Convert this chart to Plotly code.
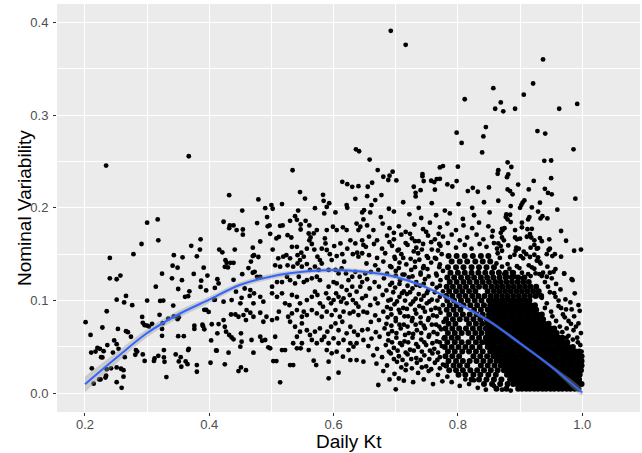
import plotly.graph_objects as go

# ---------------- data ----------------
# sparse left part, x < 0.41
left_x = [0.234,0.367,0.300,0.317,0.318,0.291,0.278,0.240,0.240,0.251,0.257,0.251,0.266,0.263,0.276,0.235,0.201,0.209,0.228,0.210,
          0.217,0.220,0.224,0.230,0.236,0.226,0.228,0.211,0.214,0.223,0.225,0.233,0.234,0.235,0.242,0.245,0.247,0.251,0.254,0.253,
          0.251,0.251,0.258,0.262,0.259,0.262,0.264,0.266,0.269,0.274,0.282,0.284,0.281,0.292,0.293,0.296,0.300,0.303,0.308,0.293,
          0.296,0.300,0.312,0.318,0.311,0.320,0.324,0.324,0.325,0.321,0.326,0.314,0.324,0.327,0.327,0.328,0.331,0.334,0.340,0.341,
          0.343,0.342,0.343,0.346,0.349,0.350,0.351,0.349,0.350,0.351,0.354,0.355,0.356,0.357,0.359,0.361,0.362,0.365,0.366,0.368,
          0.366,0.367,0.371,0.375,0.376,0.376,0.380,0.380,0.380,0.385,0.386,0.386,0.387,0.389,0.390,0.391,0.392,0.392,0.395,0.397,
          0.395,0.399,0.402,0.403,0.404,0.409,0.409,0.411,0.408]
left_y = [0.2455,0.2556,0.184,0.1875,0.165,0.161,0.150,0.146,0.124,0.123,0.127,0.101,0.105,0.098,0.095,0.0885,0.0767,0.063,0.071,0.044,
          0.045,0.049,0.048,0.0455,0.052,0.039,0.0387,0.027,0.0104,0.015,0.015,0.017,0.019,0.026,0.027,0.044,0.057,0.053,0.048,0.0695,
          0.028,0.012,0.0265,0.025,0.006,0.018,0.039,0.067,0.066,0.061,0.0466,0.045,0.0416,0.0824,0.076,0.0735,0.073,0.072,0.075,0.042,
          0.035,0.100,0.0376,0.0405,0.035,0.0846,0.0695,0.062,0.0756,0.0996,0.100,0.115,0.129,0.0466,0.0387,0.034,0.0176,0.0806,0.124,0.1376,
          0.149,0.0946,0.083,0.042,0.1355,0.1125,0.082,0.080,0.0616,0.0344,0.039,0.0287,0.122,0.1466,0.0616,0.104,0.0344,0.0315,0.1047,0.110,
          0.0466,0.048,0.159,0.1287,0.073,0.0695,0.0305,0.0233,0.1477,0.155,0.166,0.1147,0.1215,0.074,0.0724,0.1355,0.069,0.090,0.090,0.127,
          0.111,0.0878,0.033,0.057,0.0745,0.1136,0.101,0.0462,0.1007]

# middle part, 0.41 < x < 0.65
mid_x = [0.636,0.641,0.534,0.432,0.479,0.546,0.554,0.453,0.490,0.500,0.502,0.517,0.543,0.570,0.583,0.584,0.593,0.589,0.585,0.614,
         0.622,0.630,0.640,0.635,0.621,0.622,0.649,0.646,0.603,0.423,0.433,0.439,0.432,0.444,0.454,0.454,0.477,0.493,0.494,0.497,
         0.514,0.518,0.530,0.538,0.541,0.547,0.555,0.561,0.547,0.560,0.508,0.512,0.526,0.532,0.498,0.482,0.470,0.472,0.470,0.479,
         0.416,0.421,0.441,0.426,0.428,0.434,0.439,0.425,0.430,0.453,0.413,0.415,0.439,0.470,0.477,0.482,0.467,0.463,0.473,
         0.423,0.436,0.443,0.457,0.466,0.465,0.472,0.452,0.450,0.460,0.471,0.482,0.487,0.415,0.423,0.425,0.435,0.442,0.447,0.455,
         0.459,0.466,0.471,0.482,0.487,0.492,0.501,0.509,0.512,0.413,0.427,0.432,0.436,0.439,0.451,0.452,0.468,0.482,0.485,0.490,
         0.495,0.498,0.506,0.412,0.431,0.450,0.471,0.503,0.508,0.517,0.522,0.425,0.447,0.451,0.459,0.514,0.535,
         0.502,0.511,0.519,0.524,0.530,0.533,0.541,0.542,0.548,0.546,0.552,0.557,0.561,0.563,0.565,0.569,0.574,0.578,0.581,0.587,
         0.589,0.594,0.597,0.601,0.605,0.611,0.614,0.617,0.622,0.627,0.631,0.635,0.638,0.640,0.646,0.648,0.646,0.640,0.643,0.648,
         0.637,0.621,0.615,0.605,0.599,0.589,0.573,0.568,0.586,
         0.506,0.514,0.526,0.535,0.542,0.549,0.557,0.562,0.570,0.576,0.581,0.592,0.603,0.608,0.613,0.620,0.624,0.630,0.635,0.642,
         0.646,0.651,0.643,0.637,0.630,0.621,0.613,0.605,0.600,0.592,0.578,0.573,0.565,0.557,0.552,0.544,0.538,0.530,0.525,0.517,
         0.509,0.501,0.501,
         0.509,0.517,0.522,0.529,0.533,0.541,0.546,0.552,0.557,0.565,0.570,0.574,0.578,0.583,0.588,0.592,0.596,0.600,0.604,0.608,
         0.612,0.616,0.621,0.626,0.631,0.636,0.640,0.646,0.648,0.640,0.632,0.626,0.616,0.610,0.603,0.597,0.589,0.581,0.573,0.565,
         0.557,0.549,0.541,0.533,0.527,
         0.530,0.538,0.549,0.557,0.562,0.570,0.578,0.585,0.590,0.596,0.603,0.608,0.614,0.621,0.627,0.633,0.639,0.646,0.648,0.637,
         0.627,0.616,0.608,0.600,0.592,0.581,0.573,0.565,0.549,0.541,0.535,0.546,
         0.547,0.560,0.568,0.572,0.592,0.592,0.608,0.589,0.597,0.605,0.615,0.624,0.632,0.637,0.648,0.627,0.530,0.541]
mid_y = [0.263,0.261,0.2405,0.2136,0.209,0.217,0.210,0.197,0.1996,0.203,0.199,0.204,0.197,0.1996,0.214,0.2075,0.205,0.201,0.194,0.228,
         0.2255,0.2226,0.2233,0.2097,0.203,0.200,0.1975,0.195,0.195,0.185,0.181,0.181,0.178,0.176,0.1766,0.171,0.1835,0.190,0.180,0.181,
         0.1806,0.181,0.186,0.191,0.187,0.182,0.186,0.181,0.1766,0.1723,0.167,0.1687,0.1705,0.168,0.172,0.1637,0.157,0.149,0.148,0.147,
         0.155,0.152,0.155,0.1436,0.1407,0.1407,0.1407,0.1364,0.1357,0.1285,0.123,0.1185,0.1224,0.130,0.1256,0.1256,0.142,0.135,0.131,
         0.0988,0.1006,0.1096,0.113,0.1113,0.105,0.1078,0.103,0.097,0.0898,0.097,0.104,0.0988,0.0747,0.079,0.0718,0.085,0.085,0.0826,0.0844,
         0.079,0.0869,0.0826,0.0869,0.0772,0.0826,0.079,0.0808,0.088,0.0647,0.0665,0.0629,0.0603,0.0582,0.0647,0.0557,0.0575,0.061,0.0567,0.0575,
         0.0496,0.0485,0.061,0.046,0.0438,0.0503,0.0438,0.0348,0.0348,0.0467,0.0467,0.0313,0.024,0.028,0.025,0.0119,0.0305,
         0.155,0.1455,0.1473,0.149,0.1455,0.158,0.158,0.149,0.1516,0.1437,0.1473,0.156,0.165,0.168,0.161,0.155,0.1473,0.1437,0.156,0.1616,
         0.1545,0.150,0.1437,0.1588,0.148,0.1616,0.150,0.1419,0.156,0.165,0.150,0.1616,0.1516,0.1473,0.151,0.160,0.165,0.176,0.1796,0.1875,
         0.183,0.176,0.179,0.176,0.1796,0.176,0.176,0.1724,0.167,
         0.138,0.1365,0.138,0.1365,0.140,0.1365,0.1394,0.133,0.1365,0.133,0.140,0.133,0.133,0.1293,0.1347,0.1293,0.122,0.1257,0.131,0.1257,
         0.120,0.1293,0.115,0.1096,0.115,0.1113,0.115,0.1185,0.120,0.115,0.122,0.1257,0.124,0.122,0.120,0.1257,0.1185,0.122,0.1257,0.120,
         0.120,0.115,0.1078,
         0.104,0.1078,0.097,0.095,0.106,0.104,0.097,0.088,0.1006,0.104,0.1096,0.106,0.097,0.0934,0.1078,0.1024,0.097,0.1006,0.1078,0.104,
         0.0988,0.1024,0.097,0.106,0.1006,0.097,0.0934,0.1024,0.088,0.0844,0.088,0.0862,0.088,0.0826,0.0898,0.0844,0.088,0.0826,0.0862,0.0898,
         0.0844,0.0826,0.0898,0.0862,0.0826,
         0.0772,0.0718,0.0754,0.068,0.0629,0.0665,0.070,0.061,0.0665,0.0718,0.0754,0.068,0.0772,0.0647,0.0718,0.0665,0.0629,0.068,0.0575,0.054,
         0.054,0.0575,0.054,0.0593,0.054,0.0575,0.054,0.0575,0.054,0.061,0.054,0.0665,
         0.0485,0.0467,0.0352,0.0305,0.0341,0.0162,0.0223,0.0467,0.0431,0.0449,0.0395,0.0467,0.0503,0.0359,0.0341,0.0359,0.0305,0.0485]

# upper outliers, x > 0.65
upper_x = [0.692,0.716,0.857,0.811,0.845,0.841,0.798,0.806,0.839,0.658,0.671,0.695,0.680,0.690,0.688,0.701,0.662,0.655,0.667,0.654,
           0.677,0.743,0.743,0.771,0.776,0.800,0.745,0.757,0.762,0.766,0.771,0.763,0.783,0.791,0.798,0.729,0.732,0.732,0.740,0.816,
           0.824,0.832,0.850,0.937,0.921,0.906,0.869,0.860,0.873,0.892,0.963,0.992]
upper_y = [0.3908,0.3757,0.329,0.317,0.287,0.277,0.281,0.270,0.2597,0.252,0.2407,0.239,0.2335,0.2346,0.230,0.2295,0.227,0.2227,0.2083,0.2126,
           0.2137,0.2364,0.234,0.2435,0.245,0.2443,0.2288,0.2292,0.2277,0.231,0.2313,0.2195,0.2252,0.223,0.2288,0.2227,0.2162,0.2123,0.219,0.218,
           0.2216,0.2173,0.222,0.360,0.334,0.322,0.3136,0.3068,0.304,0.3068,0.3068,0.312]

# right upper part, x > 0.86 and 0.12 < y < 0.29
east_x = [0.928,0.9405,0.986,0.939,0.950,0.880,0.886,0.865,0.864,0.881,0.879,0.950,0.922,0.897,0.880,0.884,0.888,0.914,0.940,0.945,
          0.951,0.989,0.865,0.907,0.904,0.902,0.900,0.885,0.919,0.932,0.960,0.929,0.878,0.884,0.877,0.880,0.936,0.933,0.944,0.915,
          0.913,0.885,0.903,0.966,0.974,0.987,0.998,0.966,0.947,0.948,0.946,0.932,0.935,0.929,0.956,0.952,0.943,0.957,0.954,0.971,
          0.983,0.937,0.944,0.943,
          0.871,0.875,0.872,0.869,0.871,0.874,0.865,0.869,0.863,0.871,0.892,0.903,0.912,0.919,0.916,0.911,0.918,0.923,0.892,0.895,
          0.900,0.881,0.894,0.898,0.893,0.917,0.923,0.927,0.906,0.910,0.916,0.923,0.929,0.927,0.931,0.933,0.884,0.891,0.901,0.905,
          0.895,0.899,0.914,0.919,0.923,0.880,0.883,0.890,0.903,0.913,0.917,0.925,0.931,0.935,0.864,0.8675,0.862,0.871,0.866,0.8745,
          0.880,0.892,0.904]
east_y = [0.2827,0.280,0.263,0.2507,0.251,0.249,0.244,0.2406,0.2367,0.236,0.233,0.232,0.229,0.225,0.2198,0.218,0.2145,0.2198,0.2205,0.216,
          0.2145,0.2098,0.2076,0.208,0.2055,0.203,0.200,0.2019,0.2004,0.2055,0.198,0.196,0.193,0.1925,0.190,0.1875,0.191,0.1886,0.1886,0.190,
          0.1875,0.1846,0.184,0.175,0.1645,0.1537,0.155,0.1473,0.166,0.156,0.1545,0.1674,0.164,0.1566,0.150,0.148,0.150,0.134,0.131,0.129,
          0.123,0.130,0.1365,0.1257,
          0.1774,0.178,0.176,0.173,0.168,0.165,0.1616,0.1588,0.156,0.1537,0.176,0.179,0.177,0.1774,0.1717,0.1688,0.168,0.165,0.168,0.166,
          0.1667,0.1595,0.157,0.156,0.1537,0.157,0.160,0.156,0.1527,0.150,0.147,0.1494,0.1466,0.143,0.142,0.140,0.147,0.1494,0.148,0.1455,
          0.137,0.135,0.138,0.1358,0.1343,0.1394,0.1343,0.130,0.130,0.1286,0.1264,0.1293,0.1286,0.1264,0.151,0.146,0.140,0.1365,0.131,0.1286,
          0.1257,0.1257,0.124]

# right fringe of the dense cluster
fringe_x = [0.971,0.9845,0.988,0.994,0.996,0.973,0.974,0.983,0.994,0.965,0.958,0.951,0.945,0.962,0.969,0.978,0.986,0.992,0.997,0.981,
            0.955,0.966,0.975,0.987,0.999,0.998,0.948,0.940,
            0.975,0.985,0.968,0.990,0.958,0.972,0.950,0.962,0.943,0.957,0.935,0.948,0.978,0.964,0.952,0.940,0.982,0.930,0.993]
fringe_y = [0.1293,0.122,0.1078,0.0952,0.089,0.1013,0.0905,0.0905,0.0754,0.112,0.118,0.124,0.115,0.100,0.085,0.078,0.068,0.060,0.052,0.098,
            0.108,0.092,0.070,0.083,0.045,0.065,0.130,0.120,
            0.060,0.058,0.066,0.072,0.078,0.082,0.088,0.094,0.097,0.104,0.103,0.109,0.062,0.072,0.083,0.092,0.075,0.108,0.055]

# moderately dense band, 0.65 < x < 0.86
mod_x = [0.661,0.689,0.712,0.737,0.758,0.779,0.801,0.823,0.842,
         0.659,0.676,0.697,0.722,0.741,0.765,0.787,0.808,0.826,0.851,
         0.654,0.664,0.679,0.690,0.705,0.716,0.730,0.744,0.755,0.771,0.783,0.797,0.809,0.823,0.834,0.849,0.856,
         0.657,0.670,0.686,0.697,0.709,0.726,0.737,0.752,0.763,0.776,0.790,0.803,0.815,0.830,0.841,0.855,
         0.652,0.665,0.678,0.694,0.705,0.719,0.733,0.744,0.758,0.772,0.784,0.797,0.811,0.822,0.835,0.846,0.858,
         0.657,0.670,0.683,0.698,0.709,0.724,0.736,0.750,0.763,0.774,
         0.653,0.667,0.680,0.691,0.706,0.717,0.731,0.745,0.757,0.771,
         0.660,0.672,0.686,0.700,0.711,0.725,0.740,0.751,0.765,0.776,
         0.654,0.666,0.681,0.694,0.707,0.721,0.733,0.747,0.759,0.772,
         0.658,0.673,0.685,0.699,0.713,0.727,0.739,0.752,0.766,0.776,
         0.652,0.667,0.679,0.692,0.706,0.718,0.732,0.745,0.758,0.771,
         0.659,0.671,0.686,0.698,0.712,0.724,0.738,0.750,0.764,0.776,
         0.654,0.667,0.680,0.693,0.707,0.720,0.733,0.747,0.760,0.772,
         0.660,0.673,0.685,0.700,0.713,0.726,0.740,0.752,0.765,0.777,
         0.655,0.668,0.682,0.694,0.708,0.721,0.734,0.747,0.761,0.773,
         0.661,0.674,0.688,0.701,0.714,0.727,0.741,0.753,0.766,0.777,
         0.656,0.670,0.684,0.697,0.710,0.723,0.736,0.749,0.762,0.774,
         0.664,0.678,0.692,0.705,0.719,0.733,0.746,0.759,0.771,
         0.669,0.686,0.702,0.717,0.734,0.749,0.763,0.776,
         0.680,0.698,0.716,0.736,0.753,0.768,0.783,
         0.672,0.700,0.705,0.713,0.690,0.728,0.745,0.760,0.775,0.790,0.803,0.818,0.832,0.845,0.858,0.871,0.885,0.812,0.826]
mod_y = [0.203,0.199,0.206,0.200,0.205,0.197,0.204,0.200,0.206,
         0.195,0.190,0.196,0.193,0.189,0.192,0.194,0.188,0.192,0.195,
         0.181,0.176,0.183,0.178,0.180,0.174,0.182,0.177,0.184,0.179,0.183,0.176,0.181,0.178,0.184,0.180,0.175,
         0.169,0.165,0.170,0.166,0.171,0.167,0.164,0.170,0.166,0.169,0.171,0.165,0.168,0.171,0.166,0.169,
         0.158,0.161,0.156,0.159,0.155,0.160,0.157,0.161,0.155,0.159,0.162,0.157,0.160,0.156,0.161,0.158,0.162,
         0.149,0.146,0.151,0.147,0.150,0.145,0.151,0.148,0.146,0.150,
         0.140,0.138,0.142,0.137,0.141,0.139,0.142,0.137,0.141,0.139,
         0.131,0.133,0.129,0.132,0.128,0.133,0.130,0.134,0.129,0.132,
         0.123,0.120,0.124,0.119,0.122,0.125,0.120,0.123,0.118,0.122,
         0.113,0.115,0.111,0.114,0.110,0.113,0.116,0.111,0.114,0.110,
         0.105,0.102,0.106,0.101,0.104,0.107,0.102,0.105,0.101,0.104,
         0.095,0.097,0.093,0.096,0.092,0.096,0.094,0.097,0.092,0.095,
         0.087,0.084,0.088,0.085,0.087,0.083,0.086,0.088,0.084,0.087,
         0.077,0.079,0.075,0.078,0.074,0.078,0.076,0.079,0.074,0.077,
         0.069,0.066,0.070,0.067,0.070,0.065,0.068,0.070,0.066,0.069,
         0.059,0.061,0.057,0.060,0.056,0.060,0.058,0.061,0.056,0.059,
         0.051,0.048,0.052,0.049,0.052,0.047,0.050,0.052,0.048,0.051,
         0.041,0.039,0.043,0.040,0.042,0.038,0.041,0.043,0.039,
         0.032,0.030,0.034,0.031,0.033,0.029,0.033,0.031,
         0.024,0.021,0.025,0.022,0.024,0.020,0.018,
         0.009,0.0043,0.016,0.0137,0.015,0.012,0.015,0.010,0.013,0.012,0.008,0.010,0.006,0.004,0.008,0.004,0.003,0.015,0.014]

# extra points between the rows above, 0.69 < x < 0.78
mod2_x = [0.697,0.723,0.749,0.769, 0.690,0.716,0.731,0.757,0.770, 0.703,0.729,0.742,0.768, 0.699,0.712,0.738,0.752,0.765,
          0.693,0.705,0.731,0.744,0.770, 0.700,0.714,0.727,0.740,0.753,0.766, 0.691,0.706,0.719,0.733,0.745,0.771,
          0.696,0.710,0.723,0.737,0.750,0.763, 0.688,0.702,0.715,0.728,0.741,0.754,0.767, 0.692,0.705,0.718,0.731,0.744,0.757,0.770,
          0.687,0.700,0.714,0.727,0.740,0.753,0.766, 0.693,0.706,0.719,0.732,0.745,0.758,0.770, 0.688,0.701,0.715,0.728,0.741,0.754,0.767,
          0.694,0.707,0.720,0.733,0.746,0.759,0.771, 0.689,0.703,0.716,0.729,0.742,0.755,0.768, 0.697,0.711,0.725,0.740,0.754,0.767,
          0.709,0.726,0.742,0.757,0.771]
mod2_y = [0.173,0.172,0.174,0.172, 0.163,0.162,0.164,0.163,0.161, 0.154,0.153,0.155,0.154, 0.145,0.146,0.144,0.146,0.145,
          0.136,0.135,0.136,0.135,0.136, 0.127,0.128,0.126,0.128,0.126,0.127, 0.117,0.118,0.116,0.117,0.118,0.116,
          0.109,0.108,0.109,0.107,0.108,0.109, 0.100,0.099,0.100,0.099,0.101,0.099,0.100, 0.091,0.090,0.091,0.090,0.092,0.090,0.091,
          0.082,0.081,0.083,0.081,0.082,0.081,0.083, 0.073,0.074,0.072,0.074,0.073,0.074,0.072, 0.064,0.065,0.063,0.064,0.065,0.063,0.064,
          0.055,0.054,0.055,0.053,0.055,0.054,0.055, 0.045,0.046,0.044,0.046,0.045,0.046,0.044, 0.037,0.036,0.037,0.036,0.037,0.036,
          0.028,0.027,0.028,0.026,0.027]

# dense cluster (x > 0.78, y < 0.15), estimated row by row
dense_row_y = [0.005,0.010,0.015,0.020,0.025,0.030,0.035,0.040,0.045,0.050,0.055,0.060,0.065,0.070,0.075,0.080,0.085,0.090,0.095,0.100,
               0.105,0.110,0.115,0.120,0.125,0.130,0.136,0.142,0.148]
dense_row_x = [
    [0.862,0.878,0.897,0.903,0.910,0.916,0.923,0.929,0.936,0.942,0.949,0.955,0.962,0.968,0.975,0.981,0.988,0.994],
    [0.842,0.855,0.868,0.880,0.889,0.895,0.902,0.908,0.915,0.921,0.928,0.934,0.941,0.947,0.954,0.960,0.967,0.973,0.980,0.986,0.993,0.999],
    [0.822,0.834,0.846,0.858,0.870,0.884,0.891,0.897,0.904,0.910,0.917,0.923,0.930,0.936,0.943,0.949,0.956,0.962,0.969,0.975,0.982,0.988,0.995],
    [0.801,0.812,0.825,0.836,0.849,0.861,0.879,0.886,0.892,0.899,0.905,0.912,0.918,0.925,0.931,0.938,0.944,0.951,0.957,0.964,0.970,0.977,0.983,0.990,0.996],
    [0.786,0.797,0.808,0.820,0.831,0.842,0.853,0.864,0.874,0.881,0.887,0.894,0.900,0.907,0.913,0.920,0.926,0.933,0.939,0.946,0.952,0.959,0.965,0.972,0.978,0.985,0.991,0.998],
    [0.781,0.793,0.803,0.815,0.837,0.848,0.859,0.869,0.876,0.882,0.889,0.895,0.902,0.908,0.915,0.921,0.928,0.934,0.941,0.947,0.954,0.960,0.967,0.973,0.980,0.986,0.993,0.999],
    [0.785,0.797,0.808,0.819,0.830,0.841,0.852,0.862,0.869,0.875,0.882,0.888,0.895,0.901,0.908,0.914,0.921,0.927,0.934,0.940,0.947,0.953,0.960,0.966,0.973,0.979,0.986,0.992,0.999],
    [0.780,0.791,0.802,0.825,0.836,0.847,0.857,0.864,0.870,0.877,0.883,0.890,0.896,0.903,0.909,0.916,0.922,0.929,0.935,0.942,0.948,0.955,0.961,0.968,0.974,0.981,0.987,0.994,0.999],
    [0.784,0.795,0.807,0.818,0.829,0.840,0.852,0.859,0.865,0.872,0.878,0.885,0.891,0.898,0.904,0.911,0.917,0.924,0.930,0.937,0.943,0.950,0.956,0.963,0.969,0.976,0.982,0.989,0.995],
    [0.779,0.790,0.801,0.812,0.823,0.835,0.848,0.855,0.861,0.868,0.874,0.881,0.887,0.894,0.900,0.907,0.913,0.920,0.926,0.933,0.939,0.946,0.952,0.959,0.965,0.972,0.978,0.985],
    [0.783,0.795,0.806,0.817,0.829,0.839,0.846,0.853,0.859,0.866,0.872,0.879,0.885,0.892,0.898,0.905,0.911,0.918,0.924,0.931,0.937,0.944,0.950,0.957,0.963,0.970,0.976],
    [0.779,0.790,0.800,0.823,0.834,0.845,0.851,0.858,0.864,0.871,0.877,0.884,0.890,0.897,0.903,0.910,0.916,0.923,0.929,0.936,0.942,0.949,0.955,0.962,0.968],
    [0.784,0.795,0.806,0.817,0.828,0.838,0.848,0.855,0.861,0.868,0.874,0.881,0.887,0.894,0.900,0.907,0.913,0.920,0.926,0.933,0.939,0.946,0.952,0.959],
    [0.780,0.791,0.802,0.813,0.824,0.835,0.845,0.852,0.858,0.865,0.871,0.878,0.884,0.891,0.897,0.904,0.910,0.917,0.923,0.930,0.936,0.943,0.949,0.955],
    [0.785,0.796,0.818,0.829,0.839,0.848,0.855,0.861,0.868,0.874,0.881,0.887,0.894,0.900,0.907,0.913,0.920,0.926,0.933,0.939,0.946],
    [0.781,0.792,0.803,0.814,0.825,0.836,0.846,0.853,0.859,0.866,0.872,0.879,0.885,0.892,0.898,0.905,0.911,0.918,0.924,0.931,0.937],
    [0.786,0.797,0.808,0.819,0.830,0.840,0.850,0.857,0.863,0.870,0.876,0.883,0.889,0.896,0.902,0.909,0.915,0.922,0.928,0.935],
    [0.782,0.793,0.804,0.826,0.837,0.848,0.855,0.861,0.868,0.874,0.881,0.887,0.894,0.900,0.907,0.913,0.920,0.926],
    [0.787,0.798,0.809,0.820,0.831,0.842,0.852,0.859,0.865,0.872,0.878,0.885,0.891,0.898,0.904,0.911,0.917,0.924],
    [0.783,0.794,0.805,0.816,0.827,0.838,0.850,0.857,0.863,0.870,0.876,0.883,0.889,0.896,0.902,0.909,0.915],
    [0.781,0.791,0.802,0.812,0.823,0.833,0.843,0.853,0.862,0.871,0.880,0.889,0.898,0.907,0.916,0.925,0.934],
    [0.786,0.797,0.807,0.818,0.828,0.848,0.858,0.867,0.876,0.885,0.894,0.903,0.912,0.921,0.930],
    [0.782,0.792,0.803,0.813,0.824,0.834,0.844,0.854,0.863,0.872,0.881,0.890,0.899,0.908,0.917,0.926],
    [0.787,0.798,0.809,0.819,0.830,0.840,0.850,0.860,0.869,0.878,0.887,0.896,0.905,0.914],
    [0.783,0.794,0.805,0.816,0.826,0.837,0.847,0.857,0.867,0.877,0.887,0.897,0.907],
    [0.788,0.800,0.811,0.822,0.833,0.844,0.855,0.866,0.877,0.888],
    [0.784,0.797,0.809,0.822,0.834,0.846,0.858],
    [0.790,0.803,0.815,0.828,0.840,0.852],
    [0.785,0.798,0.811,0.824,0.837,0.849],
]

# loess smooth
smooth_x = [0.20,0.25,0.30,0.35,0.40,0.45,0.50,0.55,0.60,0.65,0.70,0.75,0.80,0.85,0.90,0.95,1.00]
smooth_y = [0.0097,0.038,0.065,0.085,0.101,0.117,0.126,0.131,0.133,0.131,0.1255,0.114,0.097,0.078,0.054,0.029,0.001]
smooth_se = [0.0085,0.006,0.0045,0.004,0.0035,0.003,0.003,0.0025,0.0025,0.0025,0.0025,0.002,0.002,0.002,0.002,0.002,0.003]

x_ticks = [0.2, 0.4, 0.6, 0.8, 1.0]
x_labels = ["0.2", "0.4", "0.6", "0.8", "1.0"]
y_ticks = [0.0, 0.1, 0.2, 0.3, 0.4]
y_labels = ["0.0", "0.1", "0.2", "0.3", "0.4"]
x_title = "Daily Kt"
y_title = "Nominal Variability"

# ---------------- build ----------------
pts_x = left_x + mid_x + upper_x + east_x + fringe_x + mod_x + mod2_x
pts_y = left_y + mid_y + upper_y + east_y + fringe_y + mod_y + mod2_y
dense_x, dense_y = [], []
for yv, row in zip(dense_row_y, dense_row_x):
    dense_x += row
    dense_y += [yv] * len(row)

fig = go.Figure()
fig.add_trace(go.Scatter(x=pts_x, y=pts_y, mode="markers",
                         marker=dict(color="black", size=4.8, line=dict(width=0)),
                         hoverinfo="skip", showlegend=False))
fig.add_trace(go.Scatter(x=dense_x, y=dense_y, mode="markers",
                         marker=dict(color="black", size=6.0, line=dict(width=0)),
                         hoverinfo="skip", showlegend=False))
upper_band = [m + s for m, s in zip(smooth_y, smooth_se)]
lower_band = [m - s for m, s in zip(smooth_y, smooth_se)]
fig.add_trace(go.Scatter(x=smooth_x + smooth_x[::-1], y=upper_band + lower_band[::-1],
                         mode="lines", fill="toself", fillcolor="rgba(153,153,153,0.4)",
                         line=dict(width=0, shape="spline"), hoverinfo="skip", showlegend=False))
fig.add_trace(go.Scatter(x=smooth_x, y=smooth_y, mode="lines",
                         line=dict(color="#3366FF", width=2, shape="spline"),
                         hoverinfo="skip", showlegend=False))

font_family = "Liberation Sans, Arial, sans-serif"
axis_common = dict(showline=False, zeroline=False, gridcolor="white", gridwidth=1.1,
                   ticks="outside", ticklen=3, tickwidth=1, tickcolor="#333333",
                   tickfont=dict(family=font_family, size=13, color="#4D4D4D"))
fig.update_xaxes(range=[0.155, 1.093], tickvals=x_ticks, ticktext=x_labels, ticklabelstandoff=-3,
                 minor=dict(tickvals=[0.3, 0.5, 0.7, 0.9], showgrid=True, gridcolor="white", gridwidth=0.55, ticklen=0),
                 **axis_common)
fig.update_yaxes(range=[-0.0201, 0.4197], tickvals=y_ticks, ticktext=y_labels, ticklabelstandoff=2,
                 minor=dict(tickvals=[0.05, 0.15, 0.25, 0.35], showgrid=True, gridcolor="white", gridwidth=0.55, ticklen=0),
                 **axis_common)
fig.add_annotation(text=x_title, xref="paper", yref="paper", x=0.5, y=-0.0735, xanchor="center", yanchor="middle",
                   showarrow=False, font=dict(family=font_family, size=19, color="black"))
fig.add_annotation(text=y_title, xref="paper", yref="paper", x=-0.0565, y=0.5, xanchor="center", yanchor="middle",
                   textangle=-90, showarrow=False, font=dict(family=font_family, size=19, color="black"))
fig.update_layout(width=642, height=453, margin=dict(l=57, r=2, t=4, b=41, autoexpand=False),
                  plot_bgcolor="#EBEBEB", paper_bgcolor="white", showlegend=False)
fig.write_html("out.html")
